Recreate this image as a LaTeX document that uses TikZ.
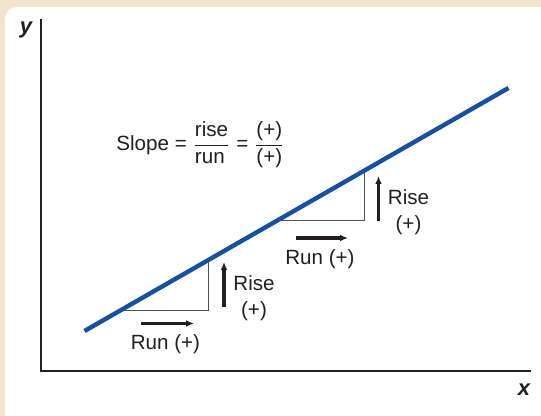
\documentclass[tikz,border=0pt]{standalone}
\usepackage{fontspec}
\setmainfont{Liberation Sans}
\usepackage{tikz}
\usetikzlibrary{
    positioning,
    arrows.meta
}
\definecolor{PanelBeige}{RGB}{243,229,205}
\definecolor{SlopeBlue}{RGB}{22,80,160}
\definecolor{InkBlack}{RGB}{35,31,32}
\definecolor{LegGray}{RGB}{80,80,80}

\begin{document}
\begin{tikzpicture}[
    x=0.5pt, y=-0.5pt,
    axis/.style={line width=1.1pt, color=InkBlack},
    slopeline/.style={line width=2.2pt, color=SlopeBlue},
    leg/.style={line width=0.5pt, color=LegGray},
    move/.style={line width=1.6pt, color=InkBlack, -{Latex[length=4pt, width=3.4pt]}},
    lbl/.style={font=\fontsize{10.3}{12.5}\selectfont, text=InkBlack, inner sep=0pt, align=center},
    axlbl/.style={font=\fontsize{11}{13}\selectfont\bfseries\itshape, text=InkBlack, inner sep=0pt},
]
\useasboundingbox (0,0) rectangle (541,416);
\fill[PanelBeige] (0,0) rectangle (541,416);
\fill[white, rounded corners=6pt] (5,7) rectangle (552,428);

% axes
\coordinate (o) at (41,371);
\coordinate (ytop) at (41,19);
\coordinate (xend) at (531,371);
\draw[axis] (ytop) -- (o) -- (xend);
\node[axlbl] (ylab) at (26,30) {y};
\node[axlbl] (xlab) at (524,390) {x};

% the line
\coordinate (a) at (84.5,331);
\coordinate (b) at (508.5,88);
\draw[slopeline] (a) -- (b);

% first step
\coordinate (p1) at (123,310.5);
\coordinate (q1) at (208,310.5);
\coordinate (r1) at (208,261);
\draw[leg] (p1) -- (q1) -- (r1);
\coordinate (rs1) at (224,307);
\coordinate (re1) at (224,262);
\draw[move] (rs1) -- (re1);
\coordinate (us1) at (141,323.5);
\coordinate (ue1) at (194,323.5);
\draw[move] (us1) -- (ue1);
\node[lbl] (rise1) at (254,283) {Rise};
\node[lbl, below=5pt of rise1] (rsign1) {(+)};
\node[lbl] (run1) at (165.5,344) {Run (+)};

% second step
\coordinate (p2) at (279,221);
\coordinate (q2) at (364,221);
\coordinate (r2) at (364,172);
\draw[leg] (p2) -- (q2) -- (r2);
\coordinate (rs2) at (378.5,221);
\coordinate (re2) at (378.5,176);
\draw[move] (rs2) -- (re2);
\coordinate (us2) at (296,238);
\coordinate (ue2) at (348,238);
\draw[move] (us2) -- (ue2);
\node[lbl] (rise2) at (408.5,197) {Rise};
\node[lbl, below=5pt of rise2] (rsign2) {(+)};
\node[lbl] (run2) at (320,259) {Run (+)};

% slope formula
\node[lbl, anchor=west] (slope) at (116,145)
  {Slope = $\displaystyle\frac{\mbox{rise}}{\mbox{run\,}}$ = $\displaystyle\frac{\mbox{(+)}}{\mbox{(+)}}$};
\end{tikzpicture}
\end{document}
